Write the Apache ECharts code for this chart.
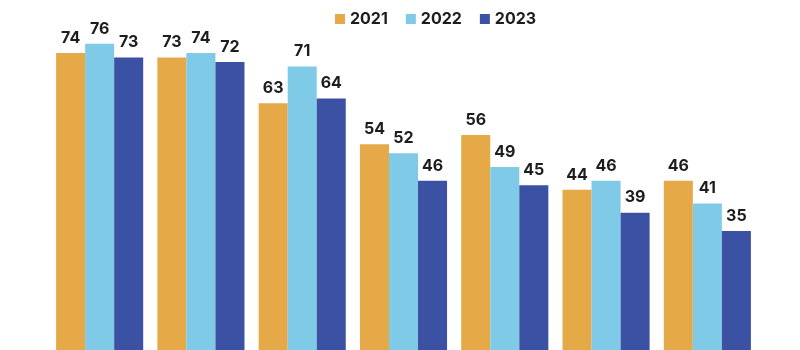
<!DOCTYPE html>
<html>
<head>
<meta charset="utf-8">
<script src="https://cdn.jsdelivr.net/npm/echarts@6/dist/echarts.min.js"></script>
<style>
  html, body { margin: 0; padding: 0; background: #fff; }
  #main { width: 800px; height: 350px; }
</style>
</head>
<body>
<div id="main"></div>
<script>
// data
const categories = ['A', 'B', 'C', 'D', 'E', 'F', 'G'];
const seriesNames = ['2021', '2022', '2023'];
const values2021 = [74, 73, 63, 54, 56, 44, 46];
const values2022 = [76, 74, 71, 52, 49, 46, 41];
const values2023 = [73, 72, 64, 46, 45, 39, 35];
const colors = ['#E6A947', '#7FCBE7', '#3B51A3'];

const chart = echarts.init(document.getElementById('main'));

const allValues = [values2021, values2022, values2023];

const option = {
  animation: false,
  color: colors,
  legend: {
    left: 330,
    top: 6,
    icon: 'rect',
    itemWidth: 10,
    itemHeight: 10,
    itemGap: 18,
    textStyle: {
      fontFamily: 'Inter',
      fontWeight: 'bold',
      fontSize: 16,
      color: '#1d1d1f'
    },
    data: seriesNames
  },
  grid: {
    left: 49,
    right: 42,
    top: 0,
    bottom: 0
  },
  xAxis: {
    type: 'category',
    data: categories,
    axisLine: { show: false },
    axisTick: { show: false },
    axisLabel: { show: false }
  },
  yAxis: {
    type: 'value',
    // the picture is cropped: the bars are cut off well above zero
    min: 8.9,
    max: 85.6,
    show: false,
    splitLine: { show: false }
  },
  series: seriesNames.map((name, i) => ({
    name: name,
    type: 'bar',
    barGap: '0%',
    barCategoryGap: '14%',
    data: allValues[i],
    label: {
      show: true,
      position: 'top',
      distance: 7,
      fontFamily: 'Inter',
      fontWeight: 'bold',
      fontSize: 16,
      color: '#1d1d1f'
    }
  }))
};

chart.setOption(option);
</script>
</body>
</html>
